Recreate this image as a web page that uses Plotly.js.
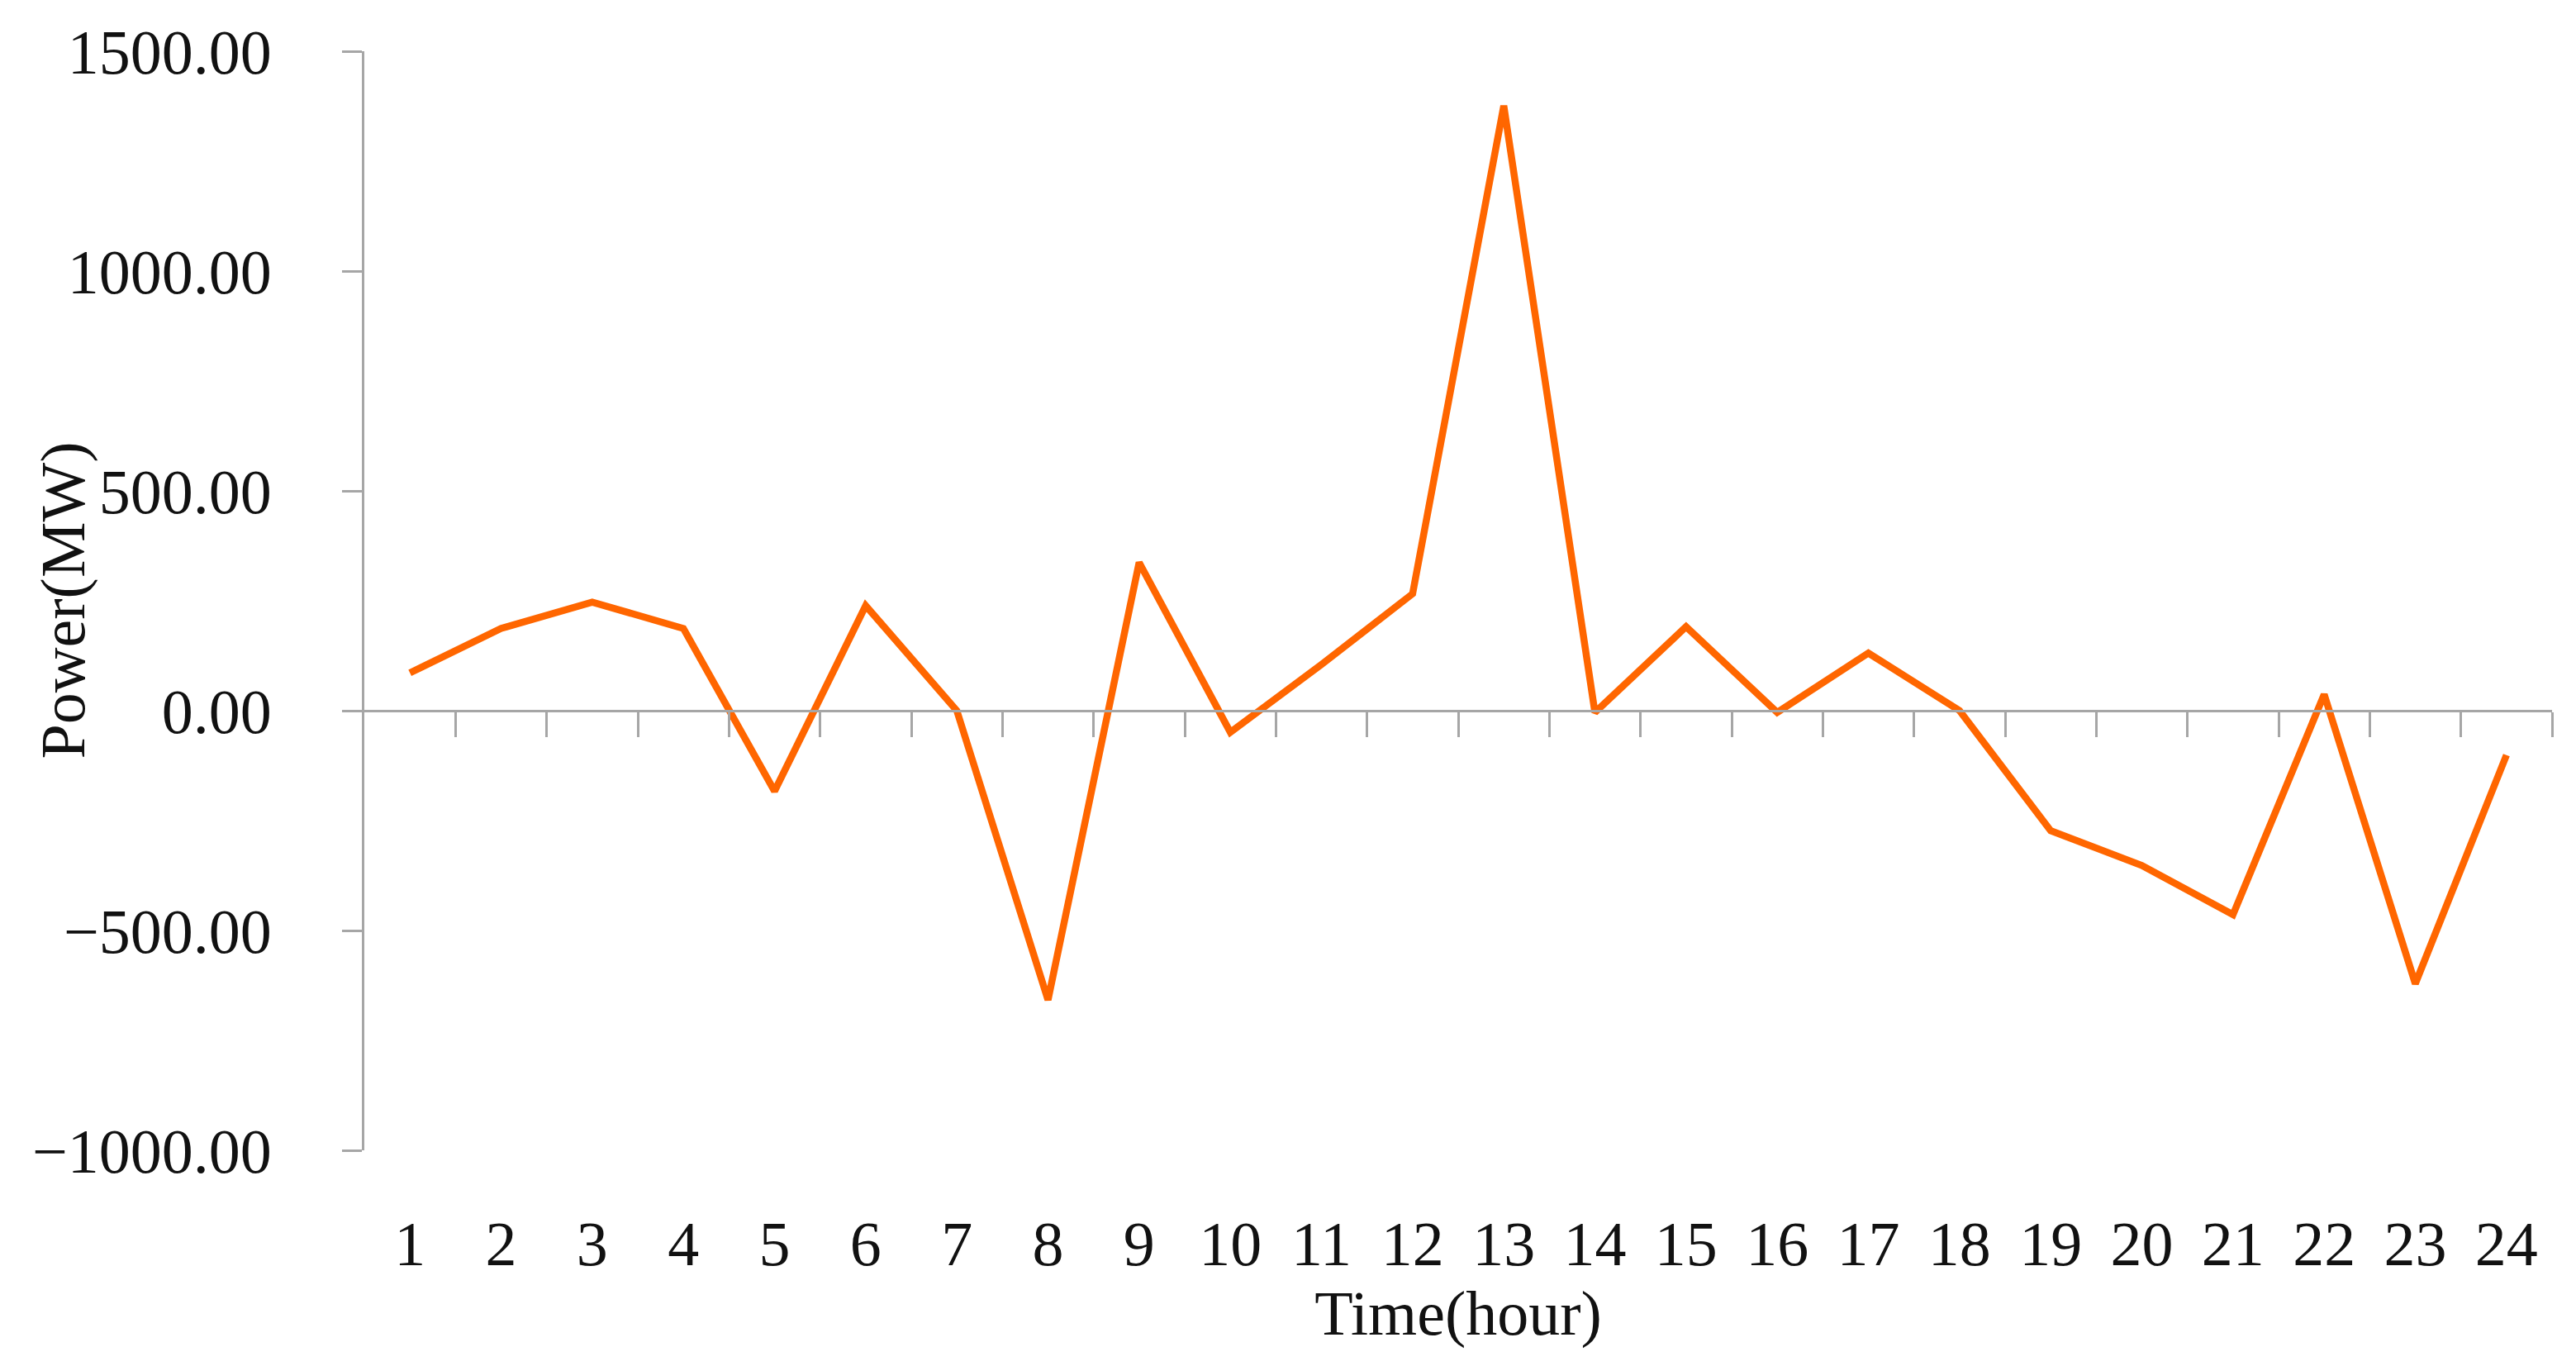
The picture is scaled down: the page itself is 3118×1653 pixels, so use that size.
<!DOCTYPE html>
<html>
<head>
<meta charset="utf-8">
<script src="https://cdn.plot.ly/plotly-3.0.1.min.js"></script>
<style>
  html, body { margin: 0; padding: 0; background: #fff; }
  #chart { width: 3118px; height: 1653px; }
</style>
</head>
<body>
<div id="chart"></div>
<script>
// hours of the day and net power (MW)
const hours = [1, 2, 3, 4, 5, 6, 7, 8, 9, 10, 11, 12, 13, 14, 15, 16, 17, 18, 19, 20, 21, 22, 23, 24];
const power = [86, 187, 247, 187, -183, 239, 0, -658, 337, -49, 105, 266,
               1376, -4, 191, -4, 131, 0, -273, -352, -464, 37, -621, -101];
const hourLabels = hours.map(h => String(h));
const yTicks = [-1000, -500, 0, 500, 1000, 1500];

const axisGrey = '#a6a6a6';
const font = { family: '"Liberation Serif", "DejaVu Serif", serif', size: 76, color: '#111' };
const xRange = [0.5, 24.5];

const traces = [
  {
    x: hours, y: power,
    type: 'scatter', mode: 'lines',
    line: { color: '#ff6600', width: 8.5 },
    showlegend: false, hoverinfo: 'x+y'
  },
  // invisible copy so the zero-line axis (x2) gets drawn
  {
    x: hours, y: power, xaxis: 'x2',
    type: 'scatter', mode: 'lines',
    line: { color: 'rgba(0,0,0,0)', width: 0 },
    showlegend: false, hoverinfo: 'skip'
  }
];

const layout = {
  width: 3118, height: 1653,
  margin: { l: 441, r: 29, t: 62, b: 261 },
  paper_bgcolor: '#fff', plot_bgcolor: '#fff',
  font: font,
  xaxis: {
    range: xRange,
    tickvals: hours, ticktext: hourLabels,
    showline: false, ticks: '', showgrid: false, zeroline: false,
    tickfont: font,
    ticklabelstandoff: 62,
    title: { text: 'Time(hour)', font: font, standoff: 0 }
  },
  xaxis2: {
    overlaying: 'x', anchor: 'free', position: 0.4, side: 'bottom',
    range: xRange,
    tickvals: hours.map(h => h + 0.5),
    showticklabels: false, showgrid: false, zeroline: false,
    showline: true, linecolor: axisGrey, linewidth: 3,
    ticks: 'outside', ticklen: 30, tickwidth: 3, tickcolor: axisGrey
  },
  yaxis: {
    range: [-1000, 1500],
    tickvals: yTicks, tickformat: '.2f',
    showline: true, linecolor: axisGrey, linewidth: 3,
    ticks: 'outside', ticklen: 24, tickwidth: 3, tickcolor: axisGrey,
    showgrid: false, zeroline: false,
    tickfont: font,
    ticklabelstandoff: 70
  },
  annotations: [{
    text: 'Power(MW)', textangle: -90,
    xref: 'paper', yref: 'paper', x: -0.138, y: 0.5,
    xanchor: 'center', yanchor: 'middle', showarrow: false,
    font: font
  }]
};

Plotly.newPlot('chart', traces, layout, { staticPlot: true });
</script>
</body>
</html>
